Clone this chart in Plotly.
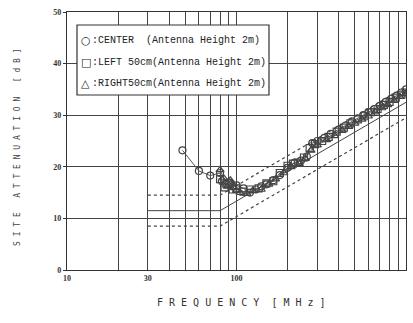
import plotly.graph_objects as go

# Reference (normalized site attenuation) and tolerance lines
nsa_f = [30, 80, 1000]
nsa_v = [11.5, 11.5, 32.5]
upper_v = [14.5, 14.5, 35.5]
lower_v = [8.5, 8.5, 29.5]

# CENTER (circles)
f_c = [48, 60, 70, 80, 82, 86, 90, 95, 100, 110, 120, 130, 140, 150, 165, 180, 200, 220, 240, 260,
       280, 300, 330, 360, 400, 440, 480, 520, 560, 600, 650, 700, 760, 820, 880, 940, 1000]
v_c = [23.2, 19.2, 18.3, 18.8, 17.2, 16.6, 17.0, 16.2, 16.4, 15.8, 15.0, 15.6, 16.2, 16.6, 17.4, 18.4,
       19.8, 20.8, 21.2, 22.0, 24.6, 25.0, 25.6, 26.4, 27.2, 28.0, 28.8, 29.4, 30.0, 30.6, 31.2, 31.8,
       32.6, 33.2, 33.8, 34.4, 35.0]

# LEFT 50cm (squares)
f_l = [80, 85, 90, 95, 100, 110, 120, 135, 150, 165, 180, 200, 215, 230, 250, 270, 290, 320, 350, 390,
       430, 470, 520, 570, 620, 680, 740, 800, 870, 940, 1000]
v_l = [17.6, 16.0, 16.8, 15.6, 15.8, 15.2, 15.6, 15.8, 16.8, 17.2, 18.8, 20.2, 20.6, 20.8, 21.8, 23.6,
       24.4, 25.0, 25.8, 26.8, 27.6, 28.4, 29.2, 29.8, 30.6, 31.2, 32.0, 32.6, 33.4, 34.0, 34.4]

# RIGHT 50cm (triangles)
f_r = [80, 84, 88, 92, 96, 100, 105, 115, 125, 140, 155, 170, 190, 210, 235, 255, 275, 300, 340, 380,
       420, 460, 500, 550, 600, 660, 720, 780, 850, 920, 1000]
v_r = [19.4, 17.8, 16.2, 17.4, 16.0, 15.4, 15.0, 14.8, 15.4, 15.6, 16.6, 17.6, 18.8, 20.0, 20.6, 21.6,
       23.2, 24.2, 25.2, 26.0, 27.0, 27.8, 28.4, 29.2, 29.8, 30.6, 31.4, 32.0, 32.8, 33.6, 34.2]

x_ticks = [10, 30, 100, 1000]
x_ticktext = ["10", "30", "100", "1000"]
x_minor = [20, 40, 50, 60, 70, 80, 90, 200, 300, 400, 500, 600, 700, 800, 900]
y_ticks = [0, 10, 20, 30, 40, 50]

legend_symbols = ["○", "□", "△"]
legend_lines = [":CENTER  (Antenna Height 2m)",
                ":LEFT 50cm(Antenna Height 2m)",
                ":RIGHT50cm(Antenna Height 2m)"]

ink = "#333333"
grid = "#444444"
fig = go.Figure()

fig.add_trace(go.Scatter(x=nsa_f, y=upper_v, mode="lines",
                         line=dict(color="#444444", width=1.2, dash="3px,3px"), showlegend=False))
fig.add_trace(go.Scatter(x=nsa_f, y=lower_v, mode="lines",
                         line=dict(color="#444444", width=1.2, dash="3px,3px"), showlegend=False))
fig.add_trace(go.Scatter(x=nsa_f, y=nsa_v, mode="lines",
                         line=dict(color="#444444", width=1), showlegend=False))

for fx, vy, sym in [(f_c, v_c, "circle-open"), (f_l, v_l, "square-open"), (f_r, v_r, "triangle-up-open")]:
    fig.add_trace(go.Scatter(x=fx, y=vy, mode="lines+markers",
                             line=dict(color="#555555", width=1),
                             marker=dict(symbol=sym, size=7, color="#444444", line=dict(width=1.2)),
                             showlegend=False))

# Legend box
x0p, x1p = (77 - 67) / 339, (269 - 67) / 339
y0p, y1p = (270 - 95) / 258, (270 - 25) / 258
fig.add_shape(type="rect", xref="paper", yref="paper", x0=x0p, x1=x1p, y0=y0p, y1=y1p,
              line=dict(color=ink, width=1.2), fillcolor="white", layer="above")
for sym, txt, py in zip(legend_symbols, legend_lines, [41, 62, 83]):
    fig.add_annotation(xref="paper", yref="paper", x=(79 - 67) / 339, y=(270 - py) / 258,
                       xanchor="left", yanchor="middle", text=sym, showarrow=False,
                       font=dict(family="DejaVu Sans", size=11, color="#222222"))
    fig.add_annotation(xref="paper", yref="paper", x=(90 - 67) / 339, y=(270 - py) / 258,
                       xanchor="left", yanchor="middle", text=txt, showarrow=False,
                       font=dict(family="Liberation Mono", size=10, color="#222222"))

fig.update_xaxes(type="log", range=[1, 3], tickvals=x_ticks, ticktext=x_ticktext,
                 showgrid=True, gridcolor=grid, gridwidth=1,
                 minor=dict(tickvals=x_minor, showgrid=True, gridcolor=grid, gridwidth=1),
                 showline=True, linecolor=ink, linewidth=1.2, mirror=True, ticks="",
                 tickfont=dict(family="Liberation Serif", size=8, color="#333333", weight="bold"),
                 zeroline=False)
fig.update_yaxes(range=[0, 50], tickvals=y_ticks, showgrid=True, gridcolor=grid, gridwidth=1,
                 showline=True, linecolor=ink, linewidth=1.2, mirror=True,
                 ticks="outside", ticklen=3, tickcolor=ink,
                 tickfont=dict(family="Liberation Serif", size=8, color="#333333", weight="bold"),
                 zeroline=False)

fig.add_annotation(xref="paper", yref="paper", x=(242 - 67) / 339, y=(270 - 302) / 258,
                   text="F R E Q U E N C Y  [ M H z ]", showarrow=False,
                   font=dict(family="DejaVu Sans Mono", size=10, color="#333333"),
                   xanchor="center", yanchor="middle")
fig.add_annotation(xref="paper", yref="paper", x=(17 - 67) / 339, y=(270 - 148) / 258,
                   text="S I T E   A T T E N U A T I O N   [ d B ]", showarrow=False, textangle=-90,
                   font=dict(family="DejaVu Sans Mono", size=8, color="#444444"),
                   xanchor="center", yanchor="middle")

fig.update_layout(width=413, height=323, margin=dict(l=67, r=7, t=12, b=53),
                  paper_bgcolor="white", plot_bgcolor="white", showlegend=False)

fig.write_html("out.html")
